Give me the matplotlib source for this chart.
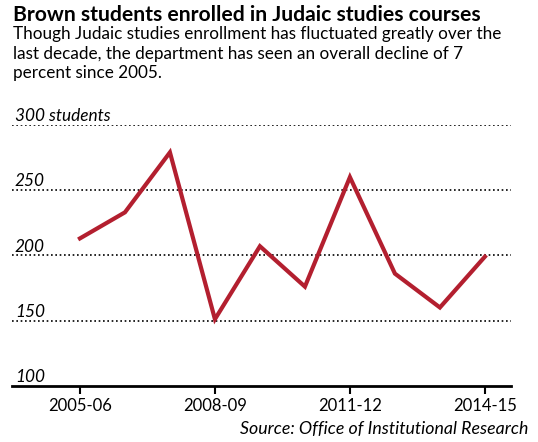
import matplotlib.pyplot as plt

years = ['2005-06', '2006-07', '2007-08', '2008-09', '2009-10',
         '2010-11', '2011-12', '2012-13', '2013-14', '2014-15']
students = [213, 233, 279, 151, 207, 176, 260, 186, 160, 199]
tick_labels = ['2005-06', '2008-09', '2011-12', '2014-15']
grid_values = [150, 200, 250, 300]
y_labels = ['100', '150', '200', '250', '300 students']

plt.rcParams['font.family'] = ['Lato', 'DejaVu Sans']

W, H = 538, 442
fig = plt.figure(figsize=(W / 100, H / 100), dpi=100)

# axes placed in pixel terms
left, right, top, bottom = 12, 511, 125, 385.7
ax = fig.add_axes([left / W, 1 - bottom / H, (right - left) / W, (bottom - top) / H])

x = list(range(len(years)))
ax.plot(x, students, color='#b31f2f', lw=3, solid_joinstyle='miter', clip_on=False, zorder=3)

for g in grid_values:
    ax.axhline(g, color='black', lw=1.2, ls=(0, (1, 1.6)), zorder=1)

ax.set_xlim(-1.51, 9.58)
ax.set_ylim(100, 300)

ticks = [years.index(t) for t in tick_labels]
ax.set_xticks(ticks)
ax.set_xticklabels(tick_labels, fontsize=12)
ax.tick_params(axis='x', length=6, width=1.5, direction='out', pad=3, colors='black')
ax.set_yticks([])

for s in ['top', 'right', 'left']:
    ax.spines[s].set_visible(False)
ax.spines['bottom'].set_linewidth(2)

for lab, v in zip(y_labels, [100, 150, 200, 250, 300]):
    ax.annotate(lab, xy=(0, v), xycoords=('axes fraction', 'data'),
                xytext=(2, 0.5), textcoords='offset points',
                fontsize=12.4, style='italic', ha='left', va='bottom')

fig.text(13 / W, 1 - 5 / H, 'Brown students enrolled in Judaic studies courses',
         fontsize=15.2, fontweight='bold', ha='left', va='top')
fig.text(13 / W, 1 - 26 / H,
         'Though Judaic studies enrollment has fluctuated greatly over the\n'
         'last decade, the department has seen an overall decline of 7\n'
         'percent since 2005.',
         fontsize=12.3, ha='left', va='top', linespacing=1.27)
fig.text(528 / W, 1 - 437 / H, 'Source: Office of Institutional Research',
         fontsize=12.8, style='italic', ha='right', va='bottom')

fig.savefig('out.png', dpi=100)
